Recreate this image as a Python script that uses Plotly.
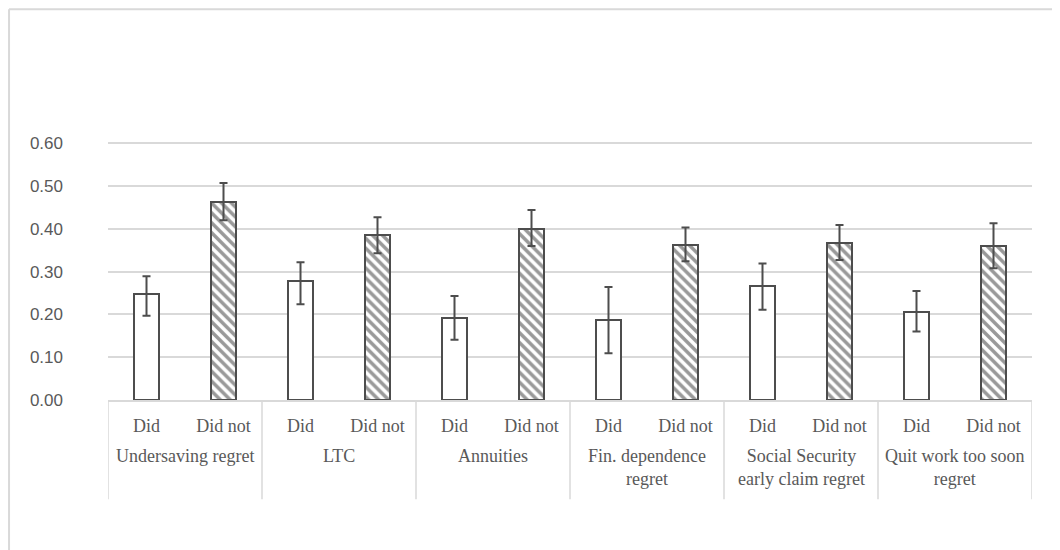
import plotly.graph_objects as go

groups = ["Undersaving regret", "LTC", "Annuities", "Fin. dependence<br>regret",
          "Social Security<br>early claim regret", "Quit work too soon<br>regret"]
subs = ["Did", "Did not"]

did = [0.247, 0.277, 0.192, 0.188, 0.267, 0.205]
did_err_plus = [0.042, 0.045, 0.051, 0.076, 0.052, 0.050]
did_err_minus = [0.050, 0.053, 0.051, 0.079, 0.056, 0.045]

didnot = [0.463, 0.385, 0.399, 0.363, 0.367, 0.359]
didnot_err_plus = [0.044, 0.042, 0.045, 0.040, 0.042, 0.054]
didnot_err_minus = [0.043, 0.042, 0.039, 0.039, 0.040, 0.051]

y_ticks = [0.0, 0.1, 0.2, 0.3, 0.4, 0.5, 0.6]

n = len(groups)
x_did = [2 * i for i in range(n)]
x_didnot = [2 * i + 1 for i in range(n)]

EDGE = "#4d4d4d"
GRID = "#d9d9d9"
SERIF = "Liberation Serif, Times New Roman, serif"

fig = go.Figure()
fig.add_trace(go.Bar(
    x=x_did, y=did, width=0.32,
    marker=dict(color="white", line=dict(color=EDGE, width=2)),
    error_y=dict(type="data", array=did_err_plus, arrayminus=did_err_minus,
                 color=EDGE, thickness=2, width=4),
    showlegend=False,
))
fig.add_trace(go.Bar(
    x=x_didnot, y=didnot, width=0.32,
    marker=dict(color="white", line=dict(color=EDGE, width=2),
                pattern=dict(shape="\\", fgcolor="#333333", bgcolor="white", size=7, solidity=0.5)),
    error_y=dict(type="data", array=didnot_err_plus, arrayminus=didnot_err_minus,
                 color=EDGE, thickness=2, width=4),
    showlegend=False,
))

# group labels
for i, g in enumerate(groups):
    fig.add_annotation(x=2 * i + 0.5, y=0, xref="x", yref="paper", text=g,
                       showarrow=False, yanchor="top", yshift=-44,
                       font=dict(family=SERIF, size=18, color="#595959"))

# category dividers
for i in range(n + 1):
    fig.add_shape(type="line", xref="x", yref="paper", x0=2 * i - 0.5, x1=2 * i - 0.5,
                  y0=0, y1=-0.38, line=dict(color=GRID, width=1.5))

# outer chart border (left and top)
fig.add_shape(type="line", xref="paper", yref="paper", x0=-0.1071, x1=-0.1071,
              y0=-0.7, y1=1.497, line=dict(color=GRID, width=2))
fig.add_shape(type="line", xref="paper", yref="paper", x0=-0.1071, x1=1.05,
              y0=1.497, y1=1.497, line=dict(color=GRID, width=2))

fig.update_layout(
    width=1060, height=550,
    margin=dict(l=100, r=36, t=131, b=158),
    paper_bgcolor="white", plot_bgcolor="white",
    barmode="overlay",
    bargap=0,
)
fig.update_xaxes(
    range=[-0.5, 2 * n - 0.5],
    tickvals=list(range(2 * n)),
    ticktext=subs * n,
    tickfont=dict(family=SERIF, size=18, color="#595959"),
    ticks="", showgrid=False, zeroline=False,
    showline=True, linecolor=GRID, linewidth=1.5,
    ticklabelstandoff=9,
)
fig.update_yaxes(
    range=[0, 0.61],
    tickvals=y_ticks, tickformat=".2f",
    tickfont=dict(family="Liberation Sans, Arial, sans-serif", size=17, color="#595959"),
    showgrid=True, gridcolor=GRID, gridwidth=1.5,
    zeroline=False, showline=False, ticks="",
    ticklabelstandoff=44,
)

fig.write_html("out.html")
